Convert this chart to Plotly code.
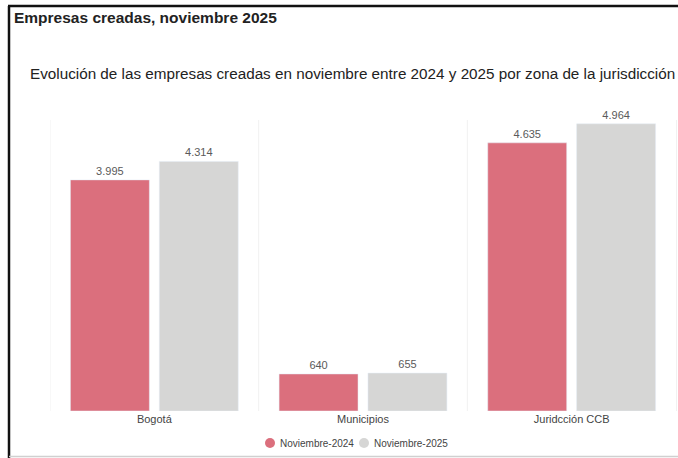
import plotly.graph_objects as go

zonas = ["Bogotá", "Municipios", "Juridcción CCB"]
nov_2024 = [3995, 640, 4635]
nov_2025 = [4314, 655, 4964]
series_names = ["Noviembre-2024", "Noviembre-2025"]

RED = "#db6f7d"
GRAY = "#d6d6d5"

W, H = 678, 458
L, R, T, B = 50, 2, 120, 47
pw, ph = W - L - R, H - T - B


def px_x(x):
    return (x - L) / pw


def px_y(y):
    return (H - B - y) / ph


fig = go.Figure()
for name, vals, col in [(series_names[0], nov_2024, RED), (series_names[1], nov_2025, GRAY)]:
    fig.add_trace(go.Bar(
        x=zonas, y=vals, name=name, marker_color=col,
        texttemplate="%{y:,}", textposition="outside",
        textfont=dict(size=11, color="#5a5a5a"),
        cliponaxis=False, showlegend=False, hoverinfo="skip",
    ))

# faint separators between zones
for i in range(len(zonas)):
    fig.add_shape(type="line", xref="x", yref="paper", x0=i - 0.5, x1=i - 0.5,
                  y0=0, y1=1, line=dict(color="#f1f1f1", width=1))
fig.add_shape(type="line", xref="paper", yref="paper", x0=px_x(676.5), x1=px_x(676.5),
              y0=0, y1=1, line=dict(color="#f1f1f1", width=1))

# hand-made legend with round markers
legend_x = [270, 364]
for name, col, lx in zip(series_names, [RED, GRAY], legend_x):
    fig.add_shape(type="circle", xref="paper", yref="paper",
                  x0=px_x(lx - 5), x1=px_x(lx + 5), y0=px_y(448), y1=px_y(438),
                  fillcolor=col, line=dict(width=0))
    fig.add_annotation(text=name, xref="paper", yref="paper", x=px_x(lx + 8), y=px_y(443),
                       xanchor="left", yanchor="middle", showarrow=False,
                       font=dict(size=10, color="#444444"))

# frame of the card
fig.add_shape(type="line", xref="paper", yref="paper", x0=px_x(9), x1=px_x(9),
              y0=px_y(6), y1=px_y(458), line=dict(color="#111111", width=2.5))
fig.add_shape(type="line", xref="paper", yref="paper", x0=px_x(8), x1=px_x(678),
              y0=px_y(6), y1=px_y(6), line=dict(color="#111111", width=2.5))
fig.add_shape(type="line", xref="paper", yref="paper", x0=px_x(9), x1=px_x(678),
              y0=px_y(456.5), y1=px_y(456.5), line=dict(color="#d0d0d0", width=1.5))

fig.add_annotation(text="<b>Empresas creadas, noviembre 2025</b>", xref="paper", yref="paper",
                   x=px_x(12), y=px_y(18), xanchor="left", yanchor="middle", showarrow=False,
                   font=dict(family="Liberation Sans", size=15.5, color="#222222"))
fig.add_annotation(text="Evolución de las empresas creadas en noviembre entre 2024 y 2025 por zona de la jurisdicción",
                   xref="paper", yref="paper", x=px_x(28), y=px_y(74), xanchor="left", yanchor="middle",
                   showarrow=False, font=dict(family="Liberation Sans", size=15.25, color="#222222"))

fig.update_layout(
    width=W, height=H,
    margin=dict(l=L, r=R, t=T, b=B),
    paper_bgcolor="white", plot_bgcolor="white",
    separators=",.",
    barmode="group", bargap=0.148, bargroupgap=0.112,
    font=dict(family="Liberation Sans", color="#444444"),
    xaxis=dict(showgrid=False, showline=False, ticks="", tickfont=dict(size=11, color="#444444"),
               range=[-0.5, 2.5]),
    yaxis=dict(visible=False, range=[0, 5030]),
    showlegend=False,
)

fig.write_html("out.html", config={"displayModeBar": False},
               post_script="document.body.style.margin='0px';document.body.style.overflow='hidden';")
